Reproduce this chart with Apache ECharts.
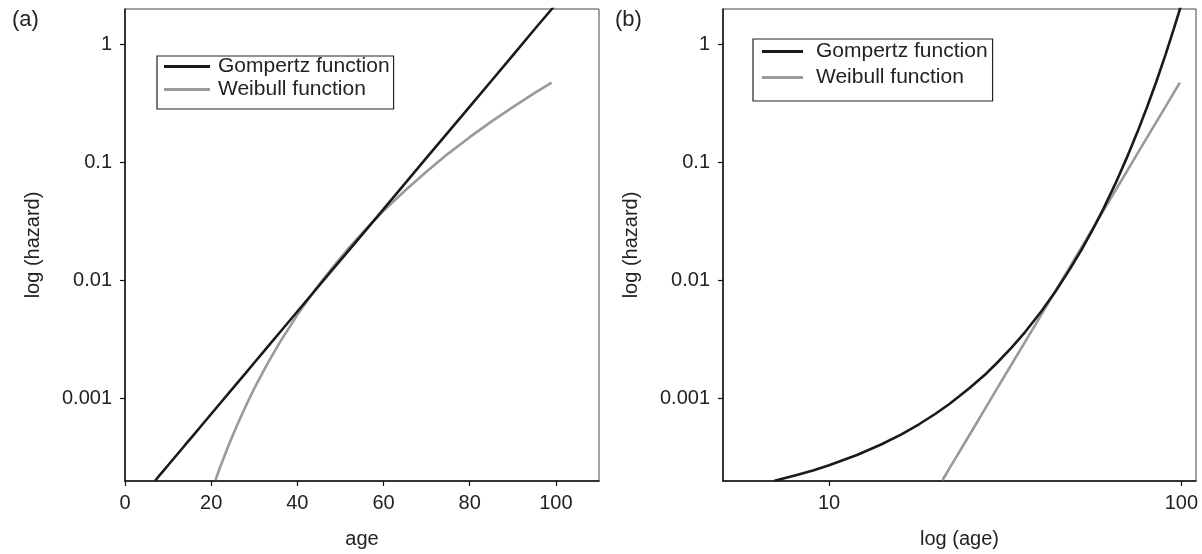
<!DOCTYPE html>
<html>
<head>
<meta charset="utf-8">
<script src="https://cdn.jsdelivr.net/npm/echarts@6/dist/echarts.min.js"></script>
<style>
  html, body { margin: 0; padding: 0; background: #fff; }
  #main { width: 1202px; height: 554px; }
</style>
</head>
<body>
<div id="main"></div>
<script>
// values (age in years, hazard per year)
const gompertzAges = [7, 8, 9, 10, 12, 14, 16, 18, 20, 22, 25, 28, 30, 33, 36, 40, 44, 48, 52, 56, 60, 65, 70, 75, 80, 85, 90, 95, 99, 100];
const gompertzHazard = [0.000201, 0.000223, 0.000246, 0.000272, 0.000332, 0.000406, 0.000495, 0.000605, 0.000739, 0.000903,
  0.00122, 0.00164, 0.00201, 0.00271, 0.00366, 0.00546, 0.00815, 0.0122, 0.0181, 0.0270,
  0.0403, 0.0665, 0.110, 0.181, 0.298, 0.491, 0.810, 1.34, 1.99, 2.20];

const weibullAges = [21, 22, 24, 26, 28, 30, 33, 36, 40, 44, 48, 52, 56, 60, 65, 70, 75, 80, 85, 90, 95, 99];
const weibullHazard = [0.000204, 0.000258, 0.000398, 0.000594, 0.000861, 0.00122, 0.00196, 0.00302, 0.00512, 0.00825,
  0.0127, 0.0190, 0.0275, 0.0389, 0.0580, 0.0840, 0.119, 0.164, 0.222, 0.295, 0.387, 0.475];

const seriesNames = ['Gompertz function', 'Weibull function'];
const panelLabels = ['(a)', '(b)'];
const hazardTicks = [0.001, 0.01, 0.1, 1];
const ageTicks = [0, 20, 40, 60, 80, 100];
const logAgeTicks = [10, 100];

const FONT = '"Liberation Sans", Arial, Helvetica, sans-serif';
const INK = '#222';
const GOMP_COLOR = '#1a1a1a';
const WEIB_COLOR = '#9a9a9a';

function pairs(xs, ys) {
  return xs.map((x, i) => [x, ys[i]]);
}

var myChart = echarts.init(document.getElementById('main'), null, { renderer: 'canvas' });

function yAxisFor(gridIndex) {
  return {
    type: 'log',
    gridIndex: gridIndex,
    min: 0.0002,
    max: 2,
    name: 'log (hazard)',
    nameLocation: 'middle',
    nameGap: 82,
    nameTextStyle: { fontSize: 20, color: INK, fontFamily: FONT },
    axisLine: { show: true, lineStyle: { color: '#111', width: 1.5 } },
    axisTick: { show: true, length: 5, lineStyle: { color: '#111', width: 1.2 }, customValues: hazardTicks },
    axisLabel: {
      fontSize: 20, color: INK, fontFamily: FONT, margin: 13,
      customValues: hazardTicks,
      formatter: v => String(+v.toPrecision(3))
    },
    splitLine: { show: false },
    minorTick: { show: false }
  };
}

// panel geometry
const grids = [
  { left: 125, top: 9, width: 474, height: 473 },
  { left: 723, top: 9, width: 473, height: 473 }
];

var option = {
  backgroundColor: '#fff',
  animation: false,
  title: panelLabels.map((t, i) => ({
    text: t,
    left: i === 0 ? 12 : 615,
    top: 9,
    padding: 0,
    textStyle: { fontSize: 22, fontWeight: 'normal', color: INK, fontFamily: FONT }
  })),
  legend: [
    {
      data: seriesNames, orient: 'vertical', left: 157, top: 56,
      icon: 'rect', itemWidth: 46, itemHeight: 3, itemGap: 2,
      padding: [0, 4, 9, 7],
      borderColor: '#222', borderWidth: 1.2, selectedMode: false,
      textStyle: { fontSize: 21, lineHeight: 21, color: INK, fontFamily: FONT, padding: [0, 0, 0, 3] }
    },
    {
      data: seriesNames, orient: 'vertical', left: 753, top: 39,
      icon: 'rect', itemWidth: 41, itemHeight: 3, itemGap: 5,
      padding: [2, 5, 13, 9],
      borderColor: '#222', borderWidth: 1.2, selectedMode: false,
      textStyle: { fontSize: 21, lineHeight: 21, color: INK, fontFamily: FONT, padding: [0, 0, 0, 8] }
    }
  ],
  grid: grids.map(g => Object.assign({ show: true, borderColor: '#444', borderWidth: 1, backgroundColor: 'transparent' }, g)),
  xAxis: [
    {
      type: 'value', gridIndex: 0, min: 0, max: 110, interval: 20,
      name: 'age', nameLocation: 'middle', nameGap: 48,
      nameTextStyle: { fontSize: 20, color: INK, fontFamily: FONT },
      axisLine: { show: true, lineStyle: { color: '#111', width: 1.5 } },
      axisTick: { show: true, length: 5, lineStyle: { color: '#111', width: 1.2 }, customValues: ageTicks },
      axisLabel: { fontSize: 20, color: INK, fontFamily: FONT, margin: 12, customValues: ageTicks },
      splitLine: { show: false }
    },
    {
      type: 'log', gridIndex: 1, min: 5, max: 110,
      name: 'log (age)', nameLocation: 'middle', nameGap: 48,
      nameTextStyle: { fontSize: 20, color: INK, fontFamily: FONT },
      axisLine: { show: true, lineStyle: { color: '#111', width: 1.5 } },
      axisTick: { show: true, length: 5, lineStyle: { color: '#111', width: 1.2 }, customValues: logAgeTicks },
      axisLabel: { fontSize: 20, color: INK, fontFamily: FONT, margin: 12, customValues: logAgeTicks },
      splitLine: { show: false },
      minorTick: { show: false }
    }
  ],
  yAxis: [yAxisFor(0), yAxisFor(1)],
  series: []
};

// same curves on both panels
[0, 1].forEach(function (gi) {
  option.series.push({
    name: seriesNames[0], type: 'line', xAxisIndex: gi, yAxisIndex: gi,
    data: pairs(gompertzAges, gompertzHazard),
    showSymbol: false, symbol: 'none', clip: true,
    lineStyle: { color: GOMP_COLOR, width: 2.6 },
    itemStyle: { color: GOMP_COLOR },
    z: 3
  });
  option.series.push({
    name: seriesNames[1], type: 'line', xAxisIndex: gi, yAxisIndex: gi,
    data: pairs(weibullAges, weibullHazard),
    showSymbol: false, symbol: 'none', clip: true,
    lineStyle: { color: WEIB_COLOR, width: 2.6 },
    itemStyle: { color: WEIB_COLOR },
    z: 2
  });
});

myChart.setOption(option);
</script>
</body>
</html>
